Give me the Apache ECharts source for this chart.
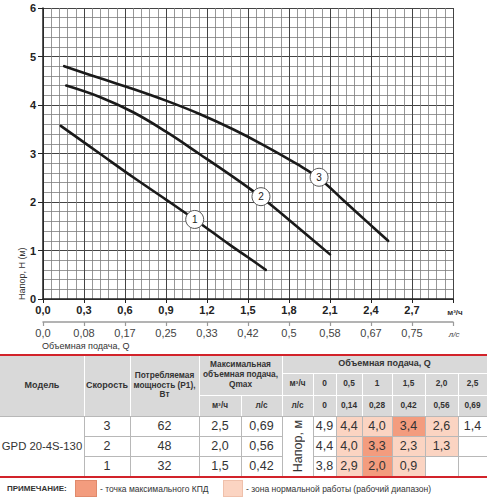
<!DOCTYPE html>
<html><head><meta charset="utf-8">
<script src="https://cdn.jsdelivr.net/npm/echarts@6/dist/echarts.min.js"></script>
<style>
html,body{margin:0;padding:0;background:#fff;width:500px;height:500px;overflow:hidden;font-family:"Liberation Sans",Arial,sans-serif;}
#chart{position:absolute;left:0;top:0;width:500px;height:500px;}
#tbl{position:absolute;left:0;top:0;width:500px;height:500px;pointer-events:none;}
.c{position:absolute;display:flex;align-items:center;justify-content:center;text-align:center;color:#333;box-sizing:border-box;white-space:nowrap;}
.hd{font-weight:bold;font-size:8.3px;line-height:9.7px;}
.dt{font-size:12.5px;}
.ln{position:absolute;box-sizing:border-box;}
</style>
</head><body>
<div id="chart"></div>
<div id="tbl"></div>
<script>
// ---- chart data ----
const xTickM3 = ['0,0','0,3','0,6','0,9','1,2','1,5','1,8','2,1','2,4','2,7'];
const xTickLs = ['0,0','0,08','0,17','0,25','0,33','0,42','0,5','0,58','0,67','0,75'];
const yTicks = ['0','1','2','3','4','5','6'];
const curve1 = [[0.13,3.57],[0.42,2.99],[0.66,2.51],[0.90,2.05],[1.11,1.64],[1.37,1.11],[1.51,0.84],[1.63,0.60]];
const curve2 = [[0.17,4.40],[0.42,4.16],[0.66,3.85],[0.90,3.45],[1.15,2.98],[1.37,2.56],[1.54,2.22],[1.66,1.96],[1.86,1.49],[2.10,0.92]];
const curve3 = [[0.155,4.80],[0.42,4.55],[0.66,4.33],[0.90,4.09],[1.15,3.81],[1.39,3.50],[1.61,3.18],[1.86,2.78],[2.02,2.49],[2.20,2.03],[2.38,1.57],[2.525,1.20]];
const curveLabels = [['1',1.11,1.64],['2',1.595,2.11],['3',2.02,2.51]];

// ---- table data ----
const modelName = 'GPD 20-4S-130';
const speeds = ['3','2','1'];
const powers = ['62','48','32'];
const qmaxM3 = ['2,5','2,0','1,5'];
const qmaxLs = ['0,69','0,56','0,42'];
const flowM3 = ['0','0,5','1','1,5','2,0','2,5'];
const flowLs = ['0','0,14','0,28','0,42','0,56','0,69'];
const heads = [['4,9','4,4','4,0','3,4','2,6','1,4'],['4,4','4,0','3,3','2,3','1,3',''],['3,8','2,9','2,0','0,9','','']];
const shade = [[0,1,1,2,1,0],[0,1,2,1,1,0],[0,1,2,1,0,0]];

const fam = '"Liberation Sans", Arial, sans-serif';
const chart = echarts.init(document.getElementById('chart'), null, {renderer:'svg'});
const lineStyle = {color:'#1a1a1a', width:2.6, cap:'round'};
const lineBase = {type:'line', smooth:0.4, symbol:'none', lineStyle:lineStyle, z:3};
chart.setOption({
  animation:false,
  grid:{left:43, right:47, top:8, bottom:201},
  xAxis:[{
    type:'value', min:0, max:3, interval:0.3, position:'bottom',
    axisLine:{show:true, lineStyle:{color:'#222', width:1.5}},
    axisTick:{show:true, length:4, lineStyle:{color:'#222'}},
    axisLabel:{fontFamily:fam, fontWeight:'bold', fontSize:11, color:'#222', margin:5,
      formatter:v=>xTickM3[Math.round(v/0.3)]||''},
    splitLine:{show:true, lineStyle:{color:'#444', width:1}},
    minorTick:{show:false, splitNumber:5},
    minorSplitLine:{show:true, lineStyle:{color:'#7c7c7c', width:0.8}}
  },{
    type:'value', min:0, max:3, interval:0.3, position:'bottom', offset:23,
    axisLine:{show:true, lineStyle:{color:'#9a9a9a', width:1.5}},
    axisTick:{show:true, length:4, lineStyle:{color:'#9a9a9a', width:1.2}},
    axisLabel:{fontFamily:fam, fontSize:11, color:'#444', margin:5,
      formatter:v=>xTickLs[Math.round(v/0.3)]||''},
    splitLine:{show:false}
  }],
  yAxis:{
    type:'value', min:0, max:6, interval:1,
    axisLine:{show:true, lineStyle:{color:'#222', width:1.5}},
    axisTick:{show:true, length:5, lineStyle:{color:'#222'}},
    axisLabel:{fontFamily:fam, fontWeight:'bold', fontSize:11, color:'#222', margin:7,
      formatter:v=>yTicks[Math.round(v)]||''},
    splitLine:{show:true, lineStyle:{color:'#444', width:1}},
    minorTick:{show:false, splitNumber:5},
    minorSplitLine:{show:true, lineStyle:{color:'#7c7c7c', width:0.8}}
  },
  series:[
    Object.assign({data:curve1}, lineBase),
    Object.assign({data:curve2}, lineBase),
    Object.assign({data:curve3}, lineBase),
    {type:'scatter', z:5, symbol:'circle', symbolSize:18,
      data:curveLabels.map(d=>({name:d[0], value:[d[1],d[2]]})),
      itemStyle:{color:'#fff', borderColor:'#555', borderWidth:1, opacity:1},
      label:{show:true, position:'inside', formatter:p=>p.name, fontFamily:fam, fontSize:10, color:'#222'}}
  ],
  graphic:[
    {type:'text', x:22, y:300, rotation:Math.PI/2, style:{text:'Напор, H (м)', font:'9px '+fam, fill:'#333', align:'left', verticalAlign:'middle'}},
    {type:'text', x:455, y:312, style:{text:'м³/ч', font:'bold 8px '+fam, fill:'#333', align:'center', verticalAlign:'middle'}},
    {type:'text', x:454, y:334, style:{text:'л/с', font:'italic 8px '+fam, fill:'#444', align:'center', verticalAlign:'middle'}},
    {type:'text', x:42, y:346, style:{text:'Объемная подача, Q', font:'9px '+fam, fill:'#333', align:'left', verticalAlign:'middle'}}
  ]
});

// ---- table (layout grid) ----
const colX = [0,84,130,199,241,282,313,336,362,392,425,458,487];
const rowY = [355,373,395,416,436,456,476];
const T = document.getElementById('tbl');
function box(x0,y0,x1,y1,bg,cls,html,extra){
  const d=document.createElement('div');
  d.className=cls||'ln';
  d.style.left=x0+'px'; d.style.top=y0+'px'; d.style.width=(x1-x0)+'px'; d.style.height=(y1-y0)+'px';
  if(bg) d.style.background=bg;
  if(html!==undefined) d.innerHTML=html;
  if(extra) Object.assign(d.style, extra);
  T.appendChild(d); return d;
}
const HG='#d9d9d9', DARK='#f39c7e', LIGHT='#fbd4c2', WL='#ffffff', GL='#b8b8b8';
box(0,rowY[0],colX[12],rowY[3],HG);
for(let r=0;r<3;r++) for(let k=0;k<6;k++){
  if(shade[r][k]) box(colX[6+k],rowY[3+r],colX[7+k],rowY[4+r], shade[r][k]===2?DARK:LIGHT);
}
[84,130,199,282].forEach(x=>box(x,rowY[0],x+1,rowY[3],WL));
box(241,rowY[2],242,rowY[3],WL);
for(let i=6;i<12;i++) box(colX[i],rowY[1],colX[i]+1,rowY[3],WL);
box(199,rowY[2],282,rowY[2]+1,WL);
box(282,rowY[1],487,rowY[1]+1,WL);
box(282,rowY[2],487,rowY[2]+1,WL);
box(0,rowY[3],487,rowY[3]+1,GL);
for(let i=1;i<12;i++) box(colX[i],rowY[3],colX[i]+1,rowY[6],GL);
[4,5].forEach(r=>{box(84,rowY[r],282,rowY[r]+1,GL); box(313,rowY[r],487,rowY[r]+1,GL);});
box(0,rowY[0]-1,487,rowY[0]+1,'#d2232a');
box(0,rowY[6],487,rowY[6]+2,'#d2232a');
box(0,rowY[0],84,rowY[3],null,'c hd','Модель',{fontSize:'9px'});
box(84,rowY[0],130,rowY[3],null,'c hd','Скорость',{fontSize:'9px'});
box(130,rowY[0],199,rowY[3],null,'c hd','Потребляемая<br>мощность (P1),<br>Вт');
box(199,rowY[0],282,rowY[2],null,'c hd','Максимальная<br>объемная подача,<br>Qmax');
box(199,rowY[2],241,rowY[3],null,'c hd','м³/ч');
box(241,rowY[2],282,rowY[3],null,'c hd','л/с');
box(282,rowY[0],487,rowY[1],null,'c hd','Объемная подача, Q',{fontSize:'9px'});
box(282,rowY[1],313,rowY[2],null,'c hd','м³/ч');
box(282,rowY[2],313,rowY[3],null,'c hd','л/с');
for(let k=0;k<6;k++){
  box(colX[6+k],rowY[1],colX[7+k],rowY[2],null,'c hd',flowM3[k]);
  box(colX[6+k],rowY[2],colX[7+k],rowY[3],null,'c hd',flowLs[k]);
}
box(0,rowY[3],84,rowY[6],null,'c dt',modelName,{fontSize:'11.3px'});
for(let r=0;r<3;r++){
  const y0=rowY[3+r], y1=rowY[4+r];
  box(84,y0,130,y1,null,'c dt',speeds[r]);
  box(130,y0,199,y1,null,'c dt',powers[r]);
  box(199,y0,241,y1,null,'c dt',qmaxM3[r]);
  box(241,y0,282,y1,null,'c dt',qmaxLs[r]);
  for(let k=0;k<6;k++) box(colX[6+k],y0,colX[7+k],y1,null,'c dt',heads[r][k]);
}
const nap = box(282,rowY[3],313,rowY[6],null,'c dt','');
const sp=document.createElement('span'); sp.textContent='Напор, м';
sp.style.writingMode='vertical-rl'; sp.style.transform='rotate(180deg)'; sp.style.fontSize='12.5px';
nap.appendChild(sp);
box(7,481,72,497,null,'c hd','ПРИМЕЧАНИЕ:',{justifyContent:'flex-start',fontSize:'8px'});
box(75,480,97,497,DARK,'ln',undefined,{border:'1px solid #e08a6c'});
box(100,481,222,497,null,'c','- точка максимального КПД',{justifyContent:'flex-start',fontSize:'8.5px'});
box(223,480,243,497,LIGHT,'ln',undefined,{border:'1px solid #efc0ab'});
box(246,481,460,497,null,'c','- зона нормальной работы (рабочий диапазон)',{justifyContent:'flex-start',fontSize:'8.5px'});
</script>
</body></html>
